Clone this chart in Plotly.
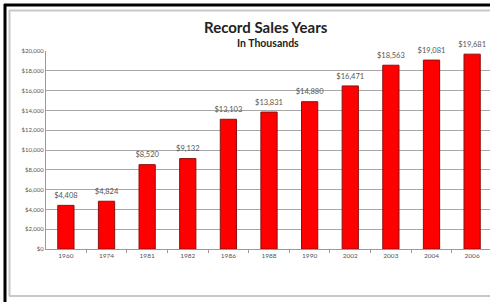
import plotly.graph_objects as go

years = ["1960", "1974", "1981", "1982", "1986", "1988", "1990", "2002", "2003", "2004", "2006"]
sales = [4408, 4824, 8520, 9132, 13103, 13831, 14880, 16471, 18563, 19081, 19681]
sales_labels = ["$" + format(v, ",") for v in sales]
y_ticks = list(range(0, 20001, 2000))
y_tick_text = ["$" + format(v, ",") for v in y_ticks]

W, H = 490, 302
L, R, T, B = 46, 0, 51, 53

def px(x):
    return (x - L) / (W - L - R)

def py(y):
    return (H - B - y) / (H - T - B)

fig = go.Figure()
fig.add_trace(go.Bar(
    x=years, y=sales, width=0.4,
    marker=dict(color="#ff0000", line=dict(color="#8b1010", width=1)),
    hoverinfo="x+y",
))
fig.add_trace(go.Scatter(
    x=years, y=sales, mode="markers+text", text=sales_labels, textposition="top center",
    marker=dict(size=7, opacity=0), cliponaxis=False, hoverinfo="skip",
    textfont=dict(family="Lato, sans-serif", size=7.5, color="#555555"),
))

shapes = [
    dict(type="line", xref="paper", yref="paper", x0=px(4), x1=px(490), y0=py(5), y1=py(5),
         line=dict(color="black", width=3)),
    dict(type="line", xref="paper", yref="paper", x0=px(5), x1=px(5), y0=py(4), y1=py(302),
         line=dict(color="black", width=3)),
    dict(type="line", xref="paper", yref="paper", x0=px(9), x1=px(490), y0=py(10.5), y1=py(10.5),
         line=dict(color="#c8c8c8", width=2)),
    dict(type="line", xref="paper", yref="paper", x0=px(9.5), x1=px(9.5), y0=py(10), y1=py(296),
         line=dict(color="#c8c8c8", width=2)),
    dict(type="line", xref="paper", yref="paper", x0=px(9), x1=px(490), y0=py(296), y1=py(296),
         line=dict(color="#c8c8c8", width=2)),
]

fig.update_layout(
    width=W, height=H,
    margin=dict(l=L, r=R, t=T, b=B),
    paper_bgcolor="white", plot_bgcolor="white",
    showlegend=False,
    font=dict(family="Lato, sans-serif", color="#333333"),
    shapes=shapes,
    annotations=[
        dict(text="<b>Record Sales Years</b>", xref="paper", yref="paper", x=px(266), y=py(27),
             showarrow=False, font=dict(size=15, color="#222222"), xanchor="center", yanchor="middle"),
        dict(text="<b>In Thousands</b>", xref="paper", yref="paper", x=px(268), y=py(43),
             showarrow=False, font=dict(size=10.5, color="#222222"), xanchor="center", yanchor="middle"),
    ],
    bargap=0.6,
)
fig.update_xaxes(
    type="category", range=[-0.49, 10.44],
    showline=True, linecolor="#9a9a9a", linewidth=1,
    ticks="outside", tickson="boundaries", ticklen=3, tickcolor="#9a9a9a",
    tickfont=dict(size=6.5, color="#555555"), showgrid=False,
)
fig.update_yaxes(
    range=[0, 20000], tickvals=y_ticks, ticktext=y_tick_text,
    showgrid=True, gridcolor="#a8a8a8", gridwidth=1,
    showline=True, linecolor="#9a9a9a", linewidth=1,
    ticks="", tickfont=dict(size=6, color="#555555"), zeroline=False,
)
fig.write_html(
    "out.html",
    config={"displayModeBar": False},
    post_script="document.body.style.margin='0';document.body.style.overflow='hidden';",
)
